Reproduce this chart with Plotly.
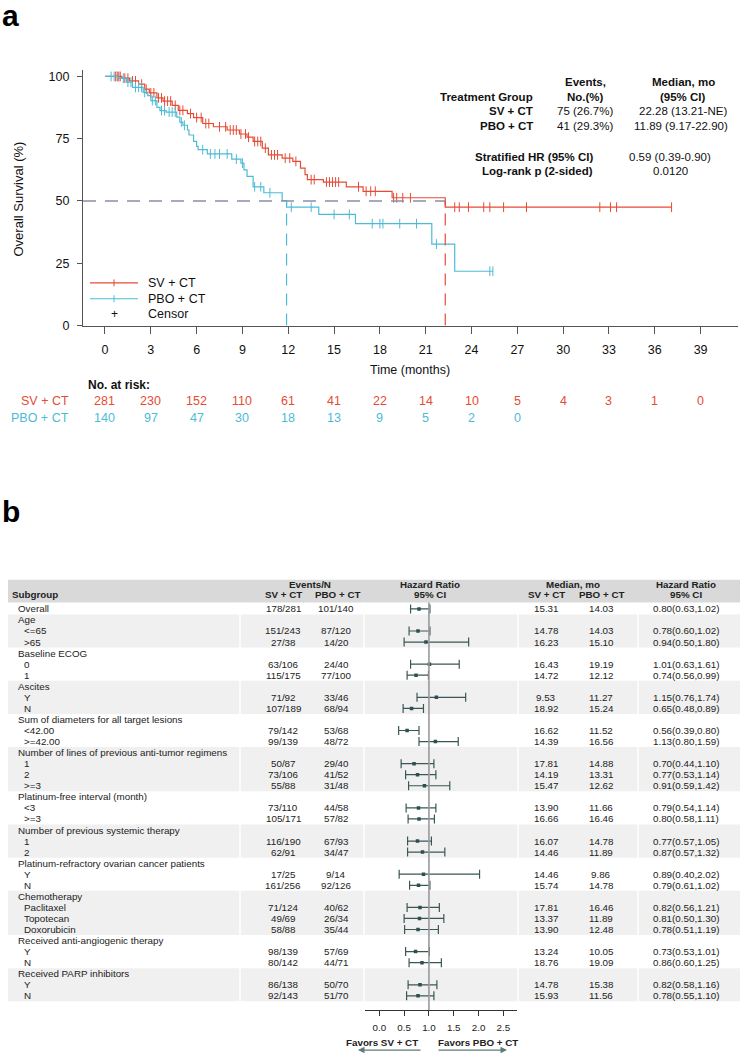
import numpy as np
import plotly.graph_objects as go

W, H = 745, 1061
RED = "#E64B35"
CYAN = "#4DBBD5"

# ---------------- Panel a data (Kaplan-Meier) ----------------
sv_time = [0, 1.1, 1.6, 2.2, 2.6, 2.9, 3.4, 3.8, 4.4, 4.8, 5.4, 5.8, 6.4, 7.1, 8.0, 8.8, 9.3, 9.7,
           10.3, 10.7, 11.6, 12.3, 12.8, 13.1, 13.25, 14.3, 15.8, 16.9, 18.8, 22.28, 37.1]
sv_surv = [100, 99.3, 98.2, 96.9, 94.9, 93.4, 91.4, 90.1, 88.4, 86.4, 85.1, 83.5, 81.1, 79.8, 78.5, 76.9,
           75.6, 73.9, 71.2, 68.5, 67.2, 65.9, 63.2, 60.6, 58.6, 57.6, 55.7, 53.9, 51.3, 47.5, 47.5]
pbo_time = [0, 0.9, 1.4, 1.8, 2.5, 2.8, 3.0, 3.4, 3.6, 4.0, 4.7, 4.9, 5.1, 5.4, 5.5, 5.8, 6.0, 6.1, 6.7,
            8.3, 8.9, 9.1, 9.3, 9.7, 10.4, 11.6, 11.89, 14.0, 16.4, 21.4, 22.9, 25.4]
pbo_surv = [100, 99.3, 97.7, 95.6, 93.6, 92.3, 90.3, 87.6, 86.3, 85.7, 83.7, 81.7, 80.4, 78.5, 76.5, 73.9,
            71.9, 70.6, 68.9, 66.8, 65.2, 62.5, 59.9, 55.7, 53.3, 50.2, 47.5, 44.6, 40.9, 32.7, 21.8, 21.8]
sv_censor = [0.7, 0.8, 0.9, 1.0, 1.3, 1.5, 1.8, 2.0, 2.4, 2.7, 3.0, 3.2, 3.5, 3.7, 3.9, 4.1, 4.3, 4.6,
             4.9, 5.1, 5.6, 6.0, 6.3, 6.6, 6.8, 7.5, 7.9, 8.2, 8.4, 8.6, 8.9, 9.2, 9.4, 9.8, 10.0, 10.2,
             10.5, 10.9, 11.1, 11.3, 11.8, 12.1, 12.5, 13.5, 13.7, 14.5, 14.7, 14.9, 15.1, 15.3, 16.6,
             17.1, 17.4, 17.7, 18.9, 19.1, 19.5, 20.0, 22.9, 23.2, 23.8, 24.8, 25.2, 26.1, 27.6, 32.4,
             33.1, 33.5, 37.1]
pbo_censor = [0.4, 0.6, 1.2, 1.5, 1.7, 2.0, 2.2, 2.4, 2.6, 3.1, 3.3, 3.7, 3.9, 4.2, 4.4, 4.6, 5.0, 5.2,
              6.4, 6.9, 7.2, 7.5, 8.0, 8.6, 9.0, 9.8, 10.2, 10.8, 12.2, 13.5, 15.0, 16.0, 17.5, 18.0,
              18.2, 19.3, 20.4, 21.7, 25.2, 25.4]
median_sv, median_pbo = 22.28, 11.89
month_ticks = list(range(0, 40, 3))
sv_at_risk = [281, 230, 152, 110, 61, 41, 22, 14, 10, 5, 4, 3, 1, 0]
pbo_at_risk = [140, 97, 47, 30, 18, 13, 9, 5, 2, 0]

# ---------------- Panel b data (forest plot) ----------------
subgroups = ["Overall", "Age", "<=65", ">65", "Baseline ECOG", "0", "1", "Ascites", "Y", "N",
             "Sum of diameters for all target lesions", "<42.00", ">=42.00",
             "Number of lines of previous anti-tumor regimens", "1", "2", ">=3",
             "Platinum-free interval (month)", "<3", ">=3",
             "Number of previous systemic therapy", "1", "2",
             "Platinum-refractory ovarian cancer patients", "Y", "N",
             "Chemotherapy", "Paclitaxel", "Topotecan", "Doxorubicin",
             "Received anti-angiogenic therapy", "Y", "N",
             "Received PARP inhibitors", "Y", "N"]
is_header = [0, 1, 0, 0, 1, 0, 0, 1, 0, 0, 1, 0, 0, 1, 0, 0, 0, 1, 0, 0, 1, 0, 0, 1, 0, 0, 1, 0, 0, 0, 1, 0, 0, 1, 0, 0]
group_size = [1, 3, 3, 3, 3, 4, 3, 3, 3, 4, 3, 3]
ev_sv = ["178/281", None, "151/243", "27/38", None, "63/106", "115/175", None, "71/92", "107/189",
         None, "79/142", "99/139", None, "50/87", "73/106", "55/88", None, "73/110", "105/171",
         None, "116/190", "62/91", None, "17/25", "161/256", None, "71/124", "49/69", "58/88",
         None, "98/139", "80/142", None, "86/138", "92/143"]
ev_pbo = ["101/140", None, "87/120", "14/20", None, "24/40", "77/100", None, "33/46", "68/94",
          None, "53/68", "48/72", None, "29/40", "41/52", "31/48", None, "44/58", "57/82",
          None, "67/93", "34/47", None, "9/14", "92/126", None, "40/62", "26/34", "35/44",
          None, "57/69", "44/71", None, "50/70", "51/70"]
hr = [0.80, None, 0.78, 0.94, None, 1.01, 0.74, None, 1.15, 0.65, None, 0.56, 1.13, None, 0.70, 0.77, 0.91,
      None, 0.79, 0.80, None, 0.77, 0.87, None, 0.89, 0.79, None, 0.82, 0.81, 0.78, None, 0.73, 0.86,
      None, 0.82, 0.78]
hr_lo = [0.63, None, 0.60, 0.50, None, 0.63, 0.56, None, 0.76, 0.48, None, 0.39, 0.80, None, 0.44, 0.53, 0.59,
         None, 0.54, 0.58, None, 0.57, 0.57, None, 0.40, 0.61, None, 0.56, 0.50, 0.51, None, 0.53, 0.60,
         None, 0.58, 0.55]
hr_hi = [1.02, None, 1.02, 1.80, None, 1.61, 0.99, None, 1.74, 0.89, None, 0.80, 1.59, None, 1.10, 1.14, 1.42,
         None, 1.14, 1.11, None, 1.05, 1.32, None, 2.02, 1.02, None, 1.21, 1.30, 1.19, None, 1.01, 1.25,
         None, 1.16, 1.10]
med_sv = ["15.31", None, "14.78", "16.23", None, "16.43", "14.72", None, "9.53", "18.92", None, "16.62",
          "14.39", None, "17.81", "14.19", "15.47", None, "13.90", "16.66", None, "16.07", "14.46", None,
          "14.46", "15.74", None, "17.81", "13.37", "13.90", None, "13.24", "18.76", None, "14.78", "15.93"]
med_pbo = ["14.03", None, "14.03", "15.10", None, "19.19", "12.12", None, "11.27", "15.24", None, "11.52",
           "16.56", None, "14.88", "13.31", "12.62", None, "11.66", "16.46", None, "14.78", "11.89", None,
           "9.86", "14.78", None, "16.46", "11.89", "12.48", None, "10.05", "19.09", None, "15.38", "11.56"]
hr_ticks = [0.0, 0.5, 1.0, 1.5, 2.0, 2.5]


def px(x):
    return x / W


def py(y):
    return 1 - y / H


FONT = "Liberation Sans, Arial, sans-serif"
NARROW = "Liberation Sans Narrow, Arial Narrow, Liberation Sans, Arial, sans-serif"

fig = go.Figure()
ann = []
shapes = []


def step_lookup(t_list, s_list, ts):
    t_arr = np.array(t_list)
    s_arr = np.array(s_list)
    idx = np.searchsorted(t_arr, np.array(ts), side="right") - 1
    return s_arr[idx]


# ---- KM curves ----
fig.add_trace(go.Scatter(x=sv_time, y=sv_surv, mode="lines", line=dict(color=RED, width=1.2, shape="hv"),
                         xaxis="x", yaxis="y", showlegend=False, hoverinfo="skip"))
fig.add_trace(go.Scatter(x=sv_censor, y=step_lookup(sv_time, sv_surv, sv_censor), mode="markers",
                         marker=dict(symbol="line-ns-open", size=7, color=RED, line=dict(color=RED, width=1)),
                         xaxis="x", yaxis="y", showlegend=False, hoverinfo="skip"))
fig.add_trace(go.Scatter(x=pbo_time, y=pbo_surv, mode="lines", line=dict(color=CYAN, width=1.2, shape="hv"),
                         xaxis="x", yaxis="y", showlegend=False, hoverinfo="skip"))
fig.add_trace(go.Scatter(x=pbo_censor, y=step_lookup(pbo_time, pbo_surv, pbo_censor), mode="markers",
                         marker=dict(symbol="line-ns-open", size=7, color=CYAN, line=dict(color=CYAN, width=1)),
                         xaxis="x", yaxis="y", showlegend=False, hoverinfo="skip"))

# median reference lines
shapes.append(dict(type="line", xref="x", yref="y", x0=-1.44, x1=median_sv, y0=50, y1=50,
                   line=dict(color="#8A8DAA", width=1.5, dash="13px,9px")))
shapes.append(dict(type="line", xref="x", yref="y", x0=median_pbo, x1=median_pbo, y0=0, y1=50,
                   line=dict(color=CYAN, width=1.2, dash="12px,8px")))
shapes.append(dict(type="line", xref="x", yref="y", x0=median_sv, x1=median_sv, y0=0, y1=50,
                   line=dict(color=RED, width=1.2, dash="12px,8px")))

# legend (manual)
for yy, col, lab in [(284, RED, "SV + CT"), (300, CYAN, "PBO + CT")]:
    shapes.append(dict(type="line", xref="paper", yref="paper", x0=px(90), x1=px(138), y0=py(yy), y1=py(yy),
                       line=dict(color=col, width=1.2)))
    shapes.append(dict(type="line", xref="paper", yref="paper", x0=px(114), x1=px(114), y0=py(yy - 3.5),
                       y1=py(yy + 3.5), line=dict(color=col, width=1)))
    ann.append(dict(text=lab, x=px(146), y=py(yy), xref="paper", yref="paper", xanchor="left", yanchor="middle",
                    showarrow=False, font=dict(family=FONT, size=12.5, color="#111")))
ann.append(dict(text="+", x=px(114), y=py(315), xref="paper", yref="paper", xanchor="center", yanchor="middle",
                showarrow=False, font=dict(family=FONT, size=12, color="#111")))
ann.append(dict(text="Censor", x=px(146), y=py(315), xref="paper", yref="paper", xanchor="left", yanchor="middle",
                showarrow=False, font=dict(family=FONT, size=12.5, color="#111")))

# stats block
def T(text, x, y, anchor="center", bold=False, size=11.5, color="#111", family=FONT):
    ann.append(dict(text=("<b>%s</b>" % text) if bold else text, x=px(x), y=py(y), xref="paper", yref="paper",
                    xanchor=anchor, yanchor="middle", showarrow=False,
                    font=dict(family=family, size=size, color=color)))


T("Events,", 585, 82, bold=True)
T("Median, mo", 683, 82, bold=True)
T("Treatment Group", 535, 97, anchor="right", bold=True)
T("No.(%)", 585, 97, bold=True)
T("(95% CI)", 683, 97, bold=True)
T("SV + CT", 535, 111, anchor="right", bold=True)
T("75 (26.7%)", 585, 111)
T("22.28 (13.21-NE)", 683, 111)
T("PBO + CT", 535, 126, anchor="right", bold=True)
T("41 (29.3%)", 585, 126)
T("11.89 (9.17-22.90)", 681, 126)
T("Stratified HR (95% CI)", 595, 157, anchor="right", bold=True)
T("0.59 (0.39-0.90)", 670, 157)
T("Log-rank p (2-sided)", 595, 171, anchor="right", bold=True)
T("0.0120", 670, 171)

# panel labels and axis titles
ann.append(dict(text="<b>a</b>", x=0, y=py(-4), xref="paper", yref="paper", xanchor="left", yanchor="top",
                showarrow=False, font=dict(family=FONT, size=30, color="#000")))
ann.append(dict(text="<b>b</b>", x=0, y=py(496), xref="paper", yref="paper", xanchor="left", yanchor="top",
                showarrow=False, font=dict(family=FONT, size=30, color="#000")))
ann.append(dict(text="Overall Survival (%)", x=px(18), y=py(200), xref="paper", yref="paper", textangle=-90,
                xanchor="center", yanchor="middle", showarrow=False, font=dict(family=FONT, size=13, color="#111")))
T("Time (months)", 410, 372, size=12.5)

# risk table
T("No. at risk:", 86, 387, anchor="left", bold=True, size=12)
T("SV + CT", 71, 403, anchor="right", size=12.5, color=RED)
T("PBO + CT", 71, 420, anchor="right", size=12.5, color=CYAN)
for m, n in zip(month_ticks, sv_at_risk):
    ann.append(dict(text=str(n), x=m, y=py(403), xref="x", yref="paper", xanchor="center", yanchor="middle",
                    showarrow=False, font=dict(family=FONT, size=12.5, color=RED)))
for m, n in zip(month_ticks, pbo_at_risk):
    ann.append(dict(text=str(n), x=m, y=py(420), xref="x", yref="paper", xanchor="center", yanchor="middle",
                    showarrow=False, font=dict(family=FONT, size=12.5, color=CYAN)))

# ---------------- Forest plot ----------------
ROW0, ROWH = 612.5, 11.14
Y2_TOP, Y2_BOT = 583, 1017
HDR_BOT = 606
y2_range = [-(Y2_BOT - ROW0) / ROWH, (ROW0 - Y2_TOP) / ROWH]
rows_y = [-i for i in range(len(subgroups))]
hdr_bot_y = -(HDR_BOT - ROW0) / ROWH

# header band
shapes.append(dict(type="rect", xref="paper", yref="y2", x0=px(8), x1=px(740), y0=y2_range[1],
                   y1=hdr_bot_y, fillcolor="#D9D9D9", line=dict(width=0), layer="below"))
# group shading
start = 0
for gi, gs in enumerate(group_size):
    if gi % 2 == 1:
        shapes.append(dict(type="rect", xref="paper", yref="y2", x0=px(8), x1=px(740), y0=-start + 0.5,
                           y1=-(start + gs - 1) - 0.5, fillcolor="#F0F0F0", line=dict(width=0), layer="below"))
    start += gs
# column separators
for sx in [240, 364, 518, 638]:
    shapes.append(dict(type="line", xref="paper", yref="y2", x0=px(sx), x1=px(sx), y0=hdr_bot_y,
                       y1=-35.5, line=dict(color="white", width=1.5), layer="below"))
# HR = 1 line
shapes.append(dict(type="line", xref="x2", yref="y2", x0=1, x1=1, y0=hdr_bot_y, y1=y2_range[0],
                   line=dict(color="#9A9A9A", width=1.6)))

# header text
FS = 9.8
def HT(text, x, y, anchor="center", bold=True):
    ann.append(dict(text=("<b>%s</b>" % text) if bold else text, x=px(x), y=py(y), xref="paper", yref="paper",
                    xanchor=anchor, yanchor="middle", showarrow=False,
                    font=dict(family=NARROW, size=FS, color="#222")))


HT("Events/N", 310, 588)
HT("SV + CT", 283, 598)
HT("PBO + CT", 337, 598)
HT("Hazard Ratio", 430, 588)
HT("95% CI", 430, 598)
HT("Median, mo", 573, 588)
HT("SV + CT", 546, 598)
HT("PBO + CT", 601, 598)
HT("Hazard Ratio", 686, 588)
HT("95% CI", 686, 598)
HT("Subgroup", 10, 598, anchor="left")

for i, lab in enumerate(subgroups):
    yv = rows_y[i]
    indent = 16 if (is_header[i] or i == 0) else 22
    ann.append(dict(text=lab.replace("<", "&lt;").replace(">", "&gt;"), x=px(indent), y=yv, xref="paper",
                    yref="y2", xanchor="left", yanchor="middle", showarrow=False,
                    font=dict(family=NARROW, size=FS, color="#222")))
    if is_header[i]:
        continue
    for txt, cx in [(ev_sv[i], 283), (ev_pbo[i], 336), (med_sv[i], 546), (med_pbo[i], 601),
                    ("%.2f(%.2f,%.2f)" % (hr[i], hr_lo[i], hr_hi[i]), 686)]:
        ann.append(dict(text=txt, x=px(cx), y=yv, xref="paper", yref="y2", xanchor="center", yanchor="middle",
                        showarrow=False, font=dict(family=NARROW, size=FS, color="#222")))

f_idx = [i for i in range(len(subgroups)) if hr[i] is not None]
fig.add_trace(go.Scatter(
    x=[hr[i] for i in f_idx], y=[rows_y[i] for i in f_idx], mode="markers",
    marker=dict(symbol="square", size=3.5, color="#2F4F4F"),
    error_x=dict(type="data", symmetric=False, array=[hr_hi[i] - hr[i] for i in f_idx],
                 arrayminus=[hr[i] - hr_lo[i] for i in f_idx], color="#3B5656", thickness=1.2, width=4.5),
    xaxis="x2", yaxis="y2", showlegend=False, hoverinfo="skip"))

# favors labels and arrows
ann.append(dict(text="<b>Favors SV + CT</b>", x=px(420), y=py(1049), xref="paper", yref="paper", xanchor="right",
                yanchor="middle", showarrow=False, font=dict(family=NARROW, size=FS, color="#222")))
ann.append(dict(text="<b>Favors PBO + CT</b>", x=px(436), y=py(1049), xref="paper", yref="paper", xanchor="left",
                yanchor="middle", showarrow=False, font=dict(family=NARROW, size=FS, color="#222")))
ann.append(dict(text="", x=px(358), y=py(1057), ax=64, ay=0, xref="paper", yref="paper",
                axref="pixel", ayref="pixel", showarrow=True, arrowhead=2, arrowsize=1, arrowwidth=1.3,
                arrowcolor="#5F7A7A"))
ann.append(dict(text="", x=px(507), y=py(1057), ax=-70, ay=0, xref="paper", yref="paper",
                axref="pixel", ayref="pixel", showarrow=True, arrowhead=2, arrowsize=1, arrowwidth=1.3,
                arrowcolor="#5F7A7A"))

AX = "#555555"
fig.update_layout(
    width=W, height=H, autosize=False, margin=dict(l=0, r=0, t=0, b=0),
    paper_bgcolor="white", plot_bgcolor="rgba(0,0,0,0)",
    xaxis=dict(domain=[px(83), px(738)], range=[-1.44, 41.45], tickvals=month_ticks, ticks="outside",
               ticklen=7, tickcolor=AX, showline=True, linecolor=AX, linewidth=1.2, showgrid=False,
               zeroline=False, tickfont=dict(family=FONT, size=12.5, color="#111"), ticklabelstandoff=5,
               anchor="y", fixedrange=True),
    yaxis=dict(domain=[py(327), py(70)], range=[0, 102.4], tickvals=[0, 25, 50, 75, 100], ticks="outside",
               ticklen=5, tickcolor=AX, showline=True, linecolor=AX, linewidth=1.2, showgrid=False,
               zeroline=False, tickfont=dict(family=FONT, size=12.5, color="#111"), ticklabelstandoff=5,
               anchor="x", fixedrange=True),
    xaxis2=dict(domain=[px(365), px(517.3)], range=[-0.288, 2.78], tickvals=hr_ticks,
                ticktext=["%.1f" % v for v in hr_ticks], ticks="outside", ticklen=5, tickcolor="#333",
                showline=True, linecolor="#333", linewidth=1.2, showgrid=False, zeroline=False,
                tickfont=dict(family=NARROW, size=FS, color="#222"), ticklabelstandoff=3,
                anchor="y2", fixedrange=True),
    yaxis2=dict(domain=[py(Y2_BOT), py(Y2_TOP)], range=y2_range, visible=False, anchor="x2", fixedrange=True),
    annotations=ann, shapes=shapes,
)

fig.write_html("out.html")
